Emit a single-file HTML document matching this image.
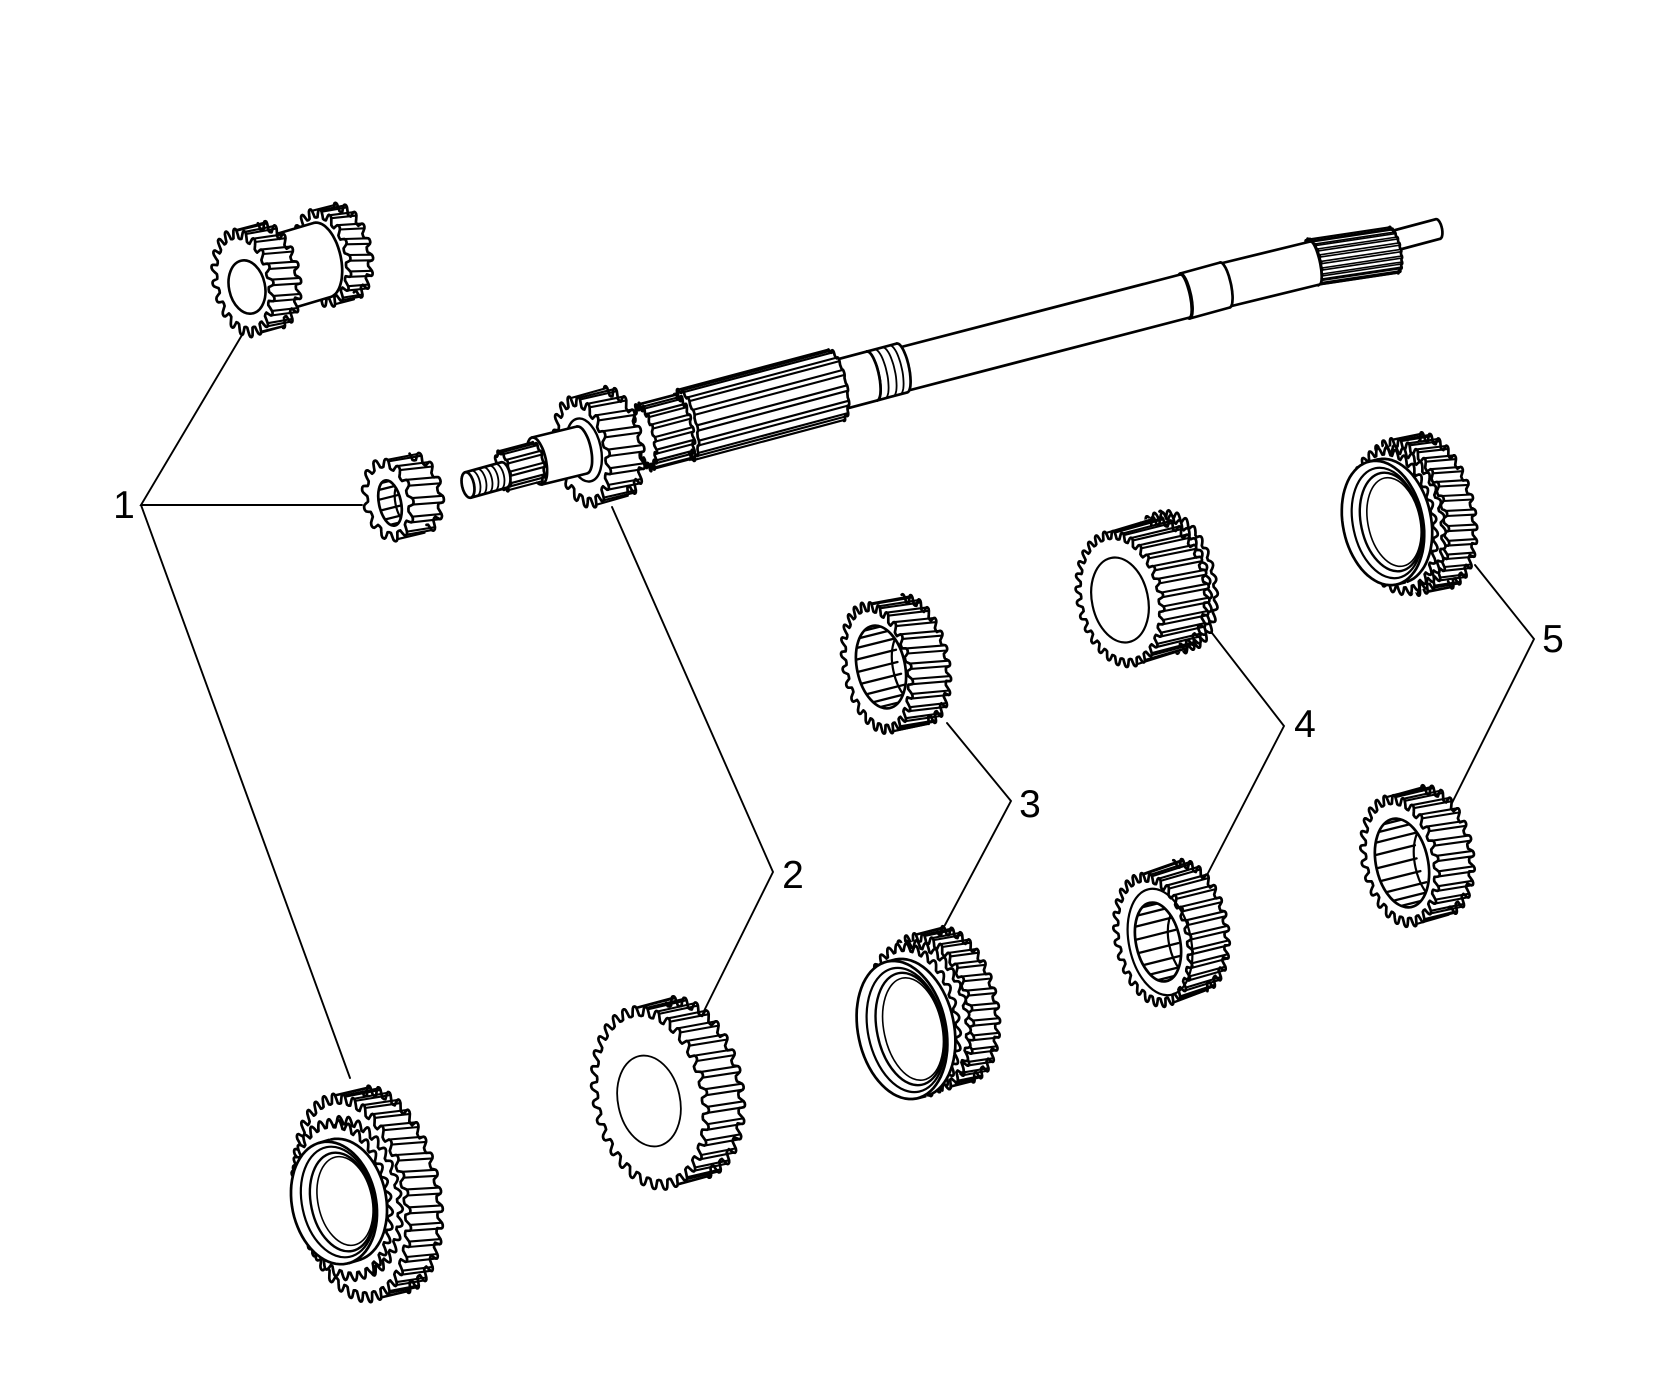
<!DOCTYPE html>
<html><head><meta charset="utf-8"><style>
html,body{margin:0;padding:0;background:#fff;}
svg{display:block;}
text{font-family:"Liberation Sans",Arial,sans-serif;font-size:39px;fill:#000;}
</style></head><body>
<svg width="1655" height="1395" viewBox="0 0 1655 1395">
<rect width="1655" height="1395" fill="#fff"/>
<g stroke="#000" stroke-width="1.9" fill="none" stroke-linecap="round" stroke-linejoin="miter">
<polyline points="242,335 141,505 362,505"/>
<line x1="141" y1="505" x2="350" y2="1078"/>
<polyline points="612,507 773,872 702,1015"/>
<polyline points="947,723 1011,801 945,925"/>
<polyline points="1212,633 1284,726 1207,875"/>
<polyline points="1475,565 1534,639 1452,803"/>
</g>
<g id="art" stroke="#000" stroke-width="2.7" stroke-linejoin="round" stroke-linecap="round"></g>
<text x="124" y="518" text-anchor="middle">1</text>
<text x="793" y="888" text-anchor="middle">2</text>
<text x="1030" y="817" text-anchor="middle">3</text>
<text x="1305" y="737" text-anchor="middle">4</text>
<text x="1553" y="652" text-anchor="middle">5</text>
</svg>
<script>
(function(){
const R=Math.PI/180, ROT=-12;
const out=[];
const f=n=>n.toFixed(1);
const P=a=>a.map(p=>f(p[0])+','+f(p[1])).join(' ');
function ep(g,t,r){const x=g.rx*r*Math.cos(t),y=g.ry*r*Math.sin(t),c=Math.cos(g.rot),s=Math.sin(g.rot);return [g.cx+x*c-y*s,g.cy+x*s+y*c,t];}
function nd(g,t,dx,dy){const nx=Math.cos(t)/g.rx,ny=Math.sin(t)/g.ry,c=Math.cos(g.rot),s=Math.sin(g.rot);return (nx*c-ny*s)*dx+(nx*s+ny*c)*dy;}
const PT=[[0,1],[0.08,0.6],[0.16,0.2],[0.24,0.04],[0.33,0],[0.42,0.04],[0.5,0.2],[0.58,0.6],[0.66,1],[0.83,1.06]];
const PB=[];for(let k=0;k<10;k++){const u=k/10;PB.push([u,u<0.8?1-Math.sin(Math.PI*u/0.8):1]);}
function outline(g,o,ph){
  if(!o.n){const a=[];for(let i=0;i<72;i++)a.push(ep(g,2*Math.PI*i/72,1));return a;}
  const st=2*Math.PI/o.n,pr=o.bump?PB:PT,a=[];
  for(let i=0;i<o.n;i++)for(const [u,v] of pr)a.push(ep(g,ph+(i+u)*st,1-o.td*v));
  return a;
}
function G(cx,cy,rx,ry){return {cx:cx,cy:cy,rx:rx,ry:ry,rot:ROT*R};}
function sh(g,dx,dy,k){return {cx:g.cx+dx*k,cy:g.cy+dy*k,rx:g.rx,ry:g.ry,rot:g.rot};}
function runs(pts,ok,sw){
  const n=pts.length;let st=ok.indexOf(false);
  if(st<0){out.push('<polygon points="'+P(pts)+'" fill="none" stroke-width="'+sw+'"/>');return;}
  let cur=[];
  const flush=()=>{if(cur.length>1)out.push('<polyline points="'+P(cur)+'" fill="none" stroke-width="'+sw+'"/>');cur=[];};
  for(let i=1;i<=n;i++){const j=(st+i)%n;if(ok[j])cur.push(pts[j]);else flush();}
  flush();
}
function ln(a,b,w){return '<line x1="'+f(a[0])+'" y1="'+f(a[1])+'" x2="'+f(b[0])+'" y2="'+f(b[1])+'" stroke-width="'+w+'"/>';}
function cyl(o){
  const g=o.g,dx=o.dx,dy=o.dy,tw=o.tw||0,ph=o.ph||0,sw=o.sw||2.7;
  const L=Math.max(3,Math.ceil(Math.hypot(dx,dy)/2.2));
  let s='';
  for(let k=L;k>=1;k--)s+='<polygon points="'+P(outline(sh(g,dx,dy,k/L),o,ph+tw*k/L))+'" fill="#fff" stroke="none"/>';
  out.push(s);
  const bg=sh(g,dx,dy,1),back=outline(bg,o,ph+tw);
  runs(back,back.map(p=>nd(bg,p[2],dx,dy)>0),sw);
  if(o.n&&!o.bump){
    const st=2*Math.PI/o.n;let s2='';
    const us=[[0.16,0.2],[0.5,0.2]];
    for(let i=0;i<o.n;i++)for(const [u,v] of us){
      const t=ph+(i+u)*st;
      if(nd(g,t,dx,dy)<=0)continue;
      s2+=ln(ep(g,t,1-o.td*v),ep(bg,t+tw,1-o.td*v),o.lw||2.1);
    }
    out.push(s2);
  }
  if(!o.n){
    let prev=nd(g,0,dx,dy),s3='';
    for(let i=1;i<=720;i++){const t=2*Math.PI*i/720;const c=nd(g,t,dx,dy);
      if((c>0)!==(prev>0)){s3+=ln(ep(g,t,1),ep(bg,t,1),sw);}prev=c;}
    out.push(s3);
  }
  out.push('<polygon points="'+P(outline(g,o,ph))+'" fill="#fff" stroke-width="'+sw+'"/>');
}
function ell(cx,cy,rx,ry,fill,sw){out.push('<ellipse cx="'+cx+'" cy="'+cy+'" rx="'+rx+'" ry="'+ry+'" transform="rotate('+ROT+' '+cx+' '+cy+')" fill="'+fill+'" stroke-width="'+sw+'"/>');}
function arcR(cx,cy,rx,ry,sw){const g=G(cx,cy,rx,ry),a=[];for(let i=0;i<=24;i++){a.push(ep(g,-Math.PI/2+Math.PI*i/24,1));}out.push('<polyline points="'+P(a)+'" fill="none" stroke-width="'+sw+'"/>');}
let cid=0;
function sbore(cx,cy,rx,ry,n,dx,dy){
  cid++;const tr='rotate('+ROT+' '+cx+' '+cy+')';
  let s='<clipPath id="k'+cid+'"><ellipse cx="'+cx+'" cy="'+cy+'" rx="'+rx+'" ry="'+ry+'" transform="'+tr+'"/></clipPath>';
  s+='<ellipse cx="'+cx+'" cy="'+cy+'" rx="'+rx+'" ry="'+ry+'" transform="'+tr+'" fill="#fff" stroke-width="2.7"/>';
  s+='<g clip-path="url(#k'+cid+')">';
  const g=G(cx,cy,rx,ry);
  for(let i=0;i<n;i++){const t=Math.PI*(0.62+0.76*i/(n-1));const a=ep(g,t,1);
    s+=ln(a,[a[0]+dx*4,a[1]+dy*4],2.3);}
  const ex=cx+rx*1.3;
  s+='<ellipse cx="'+f(ex)+'" cy="'+cy+'" rx="'+f(rx*0.8)+'" ry="'+f(ry*0.9)+'" transform="rotate('+ROT+' '+f(ex)+' '+cy+')" fill="none" stroke-width="2.2"/>';
  s+='</g>';out.push(s);
}

/* ---------- main shaft (back to front) ---------- */
cyl({g:G(1393,241,4,10),dx:45,dy:-12});
cyl({g:G(1313,262,8,24),dx:80,dy:-12,n:22,td:.08,lw:1.6});
cyl({g:G(1225,285,5,22),dx:90,dy:-22});
cyl({g:G(1185,296,6,23),dx:40,dy:-11});
cyl({g:G(900,370,5,22),dx:285,dy:-74});
cyl({g:G(872,376,7,25),dx:30,dy:-8});
arcR(880,374,7,25,1.8);arcR(888,372,7,25,1.8);arcR(895,370,7,25,1.8);
cyl({g:G(838,385,7,25),dx:34,dy:-9});
cyl({g:G(686,425,11,37),dx:150,dy:-40,n:14,td:.1});
cyl({g:G(645,437,10,35),dx:38,dy:-10,n:16,td:.2});
cyl({g:G(582,452,27,57),dx:34,dy:-10,n:18,td:.17,tw:.1});
ell(584,450,17,32,'#fff',2.4);
cyl({g:G(537,461,9,24),dx:45,dy:-11});
cyl({g:G(503,471,7,21),dx:34,dy:-9,n:10,td:.16});
cyl({g:G(468,485,6,13),dx:36,dy:-10});
for(let k=1;k<=5;k++)arcR(468+6*k,485-1.65*k,6,13,1.8);

/* ---------- 1a cluster gear ---------- */
cyl({g:G(322,258,28,50),dx:22,dy:-6,n:18,td:.17,tw:.12});
cyl({g:G(268,276,19,38),dx:54,dy:-16});
cyl({g:G(243,283,30,55),dx:27,dy:-8,n:20,td:.17,tw:.12});
ell(247,287,18,27,'#fff',2.6);
/* ---------- 1b ---------- */
cyl({g:G(388,500,25,42),dx:30,dy:-7,n:13,td:.2,tw:.12});
sbore(390,503,11,23,6,10,-2.5);
/* ---------- 1c ---------- */
cyl({g:G(352,1198,56,106),dx:32,dy:-8,n:36,td:.09,tw:.06});
cyl({g:G(342,1200,49,82),dx:10,dy:-3,n:32,td:.1,bump:1});
cyl({g:G(334,1203,42,62),dx:10,dy:-3});
ell(338,1202,36,56,'none',2.2);ell(342,1202,31,50,'#fff',2.4);ell(345,1201,27,45,'none',1.6);
/* ---------- 2 ---------- */
cyl({g:G(650,1098,57,93),dx:36,dy:-10,n:32,td:.1,tw:.05});
ell(649,1101,31,46,'none',1.8);
/* ---------- 3 top ---------- */
cyl({g:G(877,668,34,67),dx:38,dy:-8,n:26,td:.13,tw:.08});
sbore(881,667,24,42,9,10,-2.5);
/* ---------- 3 bottom ---------- */
cyl({g:G(928,1012,44,80),dx:26,dy:-7,n:32,td:.1,tw:.06});
cyl({g:G(914,1020,45,78),dx:10,dy:-3,n:30,td:.1,bump:1});
cyl({g:G(902,1030,44,70),dx:8,dy:-2});
ell(906,1030,38,63,'none',2.2);ell(910,1029,33,57,'#fff',2.4);ell(913,1029,29,52,'none',1.6);
/* ---------- 4 top ---------- */
cyl({g:G(1170,583,40,72),dx:6,dy:-2,n:30,td:.09,bump:1});
cyl({g:G(1120,599,43,69),dx:45,dy:-14,n:30,td:.11,tw:.08});
ell(1120,600,28,43,'#fff',2.2);
/* ---------- 4 bottom ---------- */
cyl({g:G(1153,940,38,68),dx:37,dy:-14,n:28,td:.12,tw:.08});
ell(1160,942,31,54,'none',2.2);
sbore(1158,942,22,40,8,10,-2.5);
/* ---------- 5 top ---------- */
cyl({g:G(1405,517,42,80),dx:28,dy:-6,n:32,td:.1,tw:.06});
cyl({g:G(1394,521,42,75),dx:8,dy:-2,n:30,td:.1,bump:1});
cyl({g:G(1383,523,40,63),dx:8,dy:-2});
ell(1387,523,34,56,'none',2.2);ell(1391,522,30,50,'#fff',2.4);ell(1394,522,26,45,'none',1.6);
/* ---------- 5 bottom ---------- */
cyl({g:G(1400,861,38,67),dx:35,dy:-10,n:26,td:.13,tw:.08});
sbore(1402,863,26,45,9,10,-2.5);

document.getElementById('art').innerHTML=out.join('');
})();
</script>
</body></html>
